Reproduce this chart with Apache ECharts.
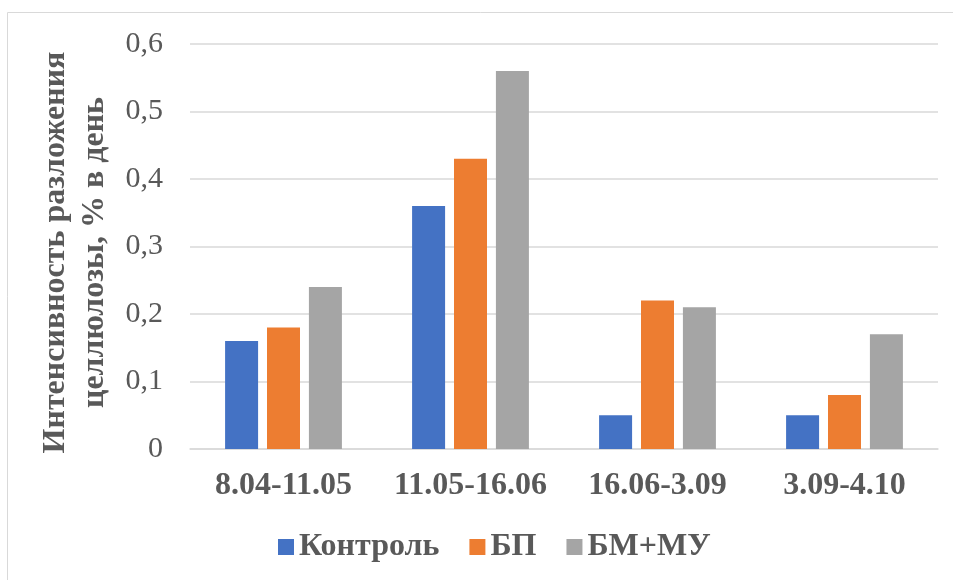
<!DOCTYPE html>
<html>
<head>
<meta charset="utf-8">
<script src="https://cdn.jsdelivr.net/npm/echarts@6/dist/echarts.min.js"></script>
<style>
  html, body { margin: 0; padding: 0; background: #fff; }
  #chart { width: 953px; height: 580px; }
</style>
</head>
<body>
<div id="chart"></div>
<script>
// Periods of observation
const periods = ['8.04-11.05', '11.05-16.06', '16.06-3.09', '3.09-4.10'];
// Cellulose decomposition rate, % per day
const kontrol = [0.16, 0.36, 0.05, 0.05];
const bp = [0.18, 0.43, 0.22, 0.08];
const bmmu = [0.24, 0.56, 0.21, 0.17];
const seriesNames = ['Контроль', 'БП', 'БМ+МУ'];
const yTitle = 'Интенсивность разложения\nцеллюлозы, % в день';

const serif = '"Liberation Serif", "Times New Roman", serif';
const textColor = '#595959';
const colors = ['#4472C4', '#ED7D31', '#A5A5A5'];

const chart = echarts.init(document.getElementById('chart'), null, { renderer: 'canvas' });

function barSeries(name, data, color) {
  return {
    name: name,
    type: 'bar',
    data: data,
    barWidth: 33,
    barGap: '27%',
    itemStyle: { color: color },
    emphasis: { disabled: true }
  };
}

chart.setOption({
  animation: false,
  color: colors,
  graphic: [{
    type: 'rect',
    shape: { x: 7.5, y: 12.5, width: 960, height: 580 },
    style: { fill: 'none', stroke: '#D9D9D9', lineWidth: 1 },
    silent: true
  }],
  grid: { left: 190, right: 15, top: 44, bottom: 131, containLabel: false },
  legend: {
    bottom: 12,
    left: 273,
    itemWidth: 16,
    itemHeight: 16,
    itemGap: 30,
    icon: 'rect',
    textStyle: { fontFamily: serif, fontWeight: 'bold', fontSize: 32, color: textColor },
    data: seriesNames
  },
  xAxis: {
    type: 'category',
    data: periods,
    axisLine: { show: true, lineStyle: { color: '#D9D9D9', width: 1.5 } },
    axisTick: { show: false },
    axisLabel: { interval: 0, fontFamily: serif, fontWeight: 'bold', fontSize: 32, color: textColor, margin: 21 }
  },
  yAxis: {
    type: 'value',
    min: 0,
    max: 0.6,
    interval: 0.1,
    name: yTitle,
    nameLocation: 'middle',
    nameGap: 70,
    nameRotate: 90,
    nameTextStyle: {
      fontFamily: serif, fontWeight: 'bold', fontSize: 32, color: textColor,
      lineHeight: 39, padding: [0, 12, 0, 0]
    },
    axisLine: { show: false },
    axisTick: { show: false },
    splitLine: { lineStyle: { color: '#D9D9D9', width: 1.5 } },
    axisLabel: {
      fontFamily: serif,
      fontSize: 30,
      color: textColor,
      margin: 27,
      formatter: v => (Math.round(v * 10) / 10).toString().replace('.', ',')
    }
  },
  series: [
    barSeries(seriesNames[0], kontrol, colors[0]),
    barSeries(seriesNames[1], bp, colors[1]),
    barSeries(seriesNames[2], bmmu, colors[2])
  ]
});
</script>
</body>
</html>
